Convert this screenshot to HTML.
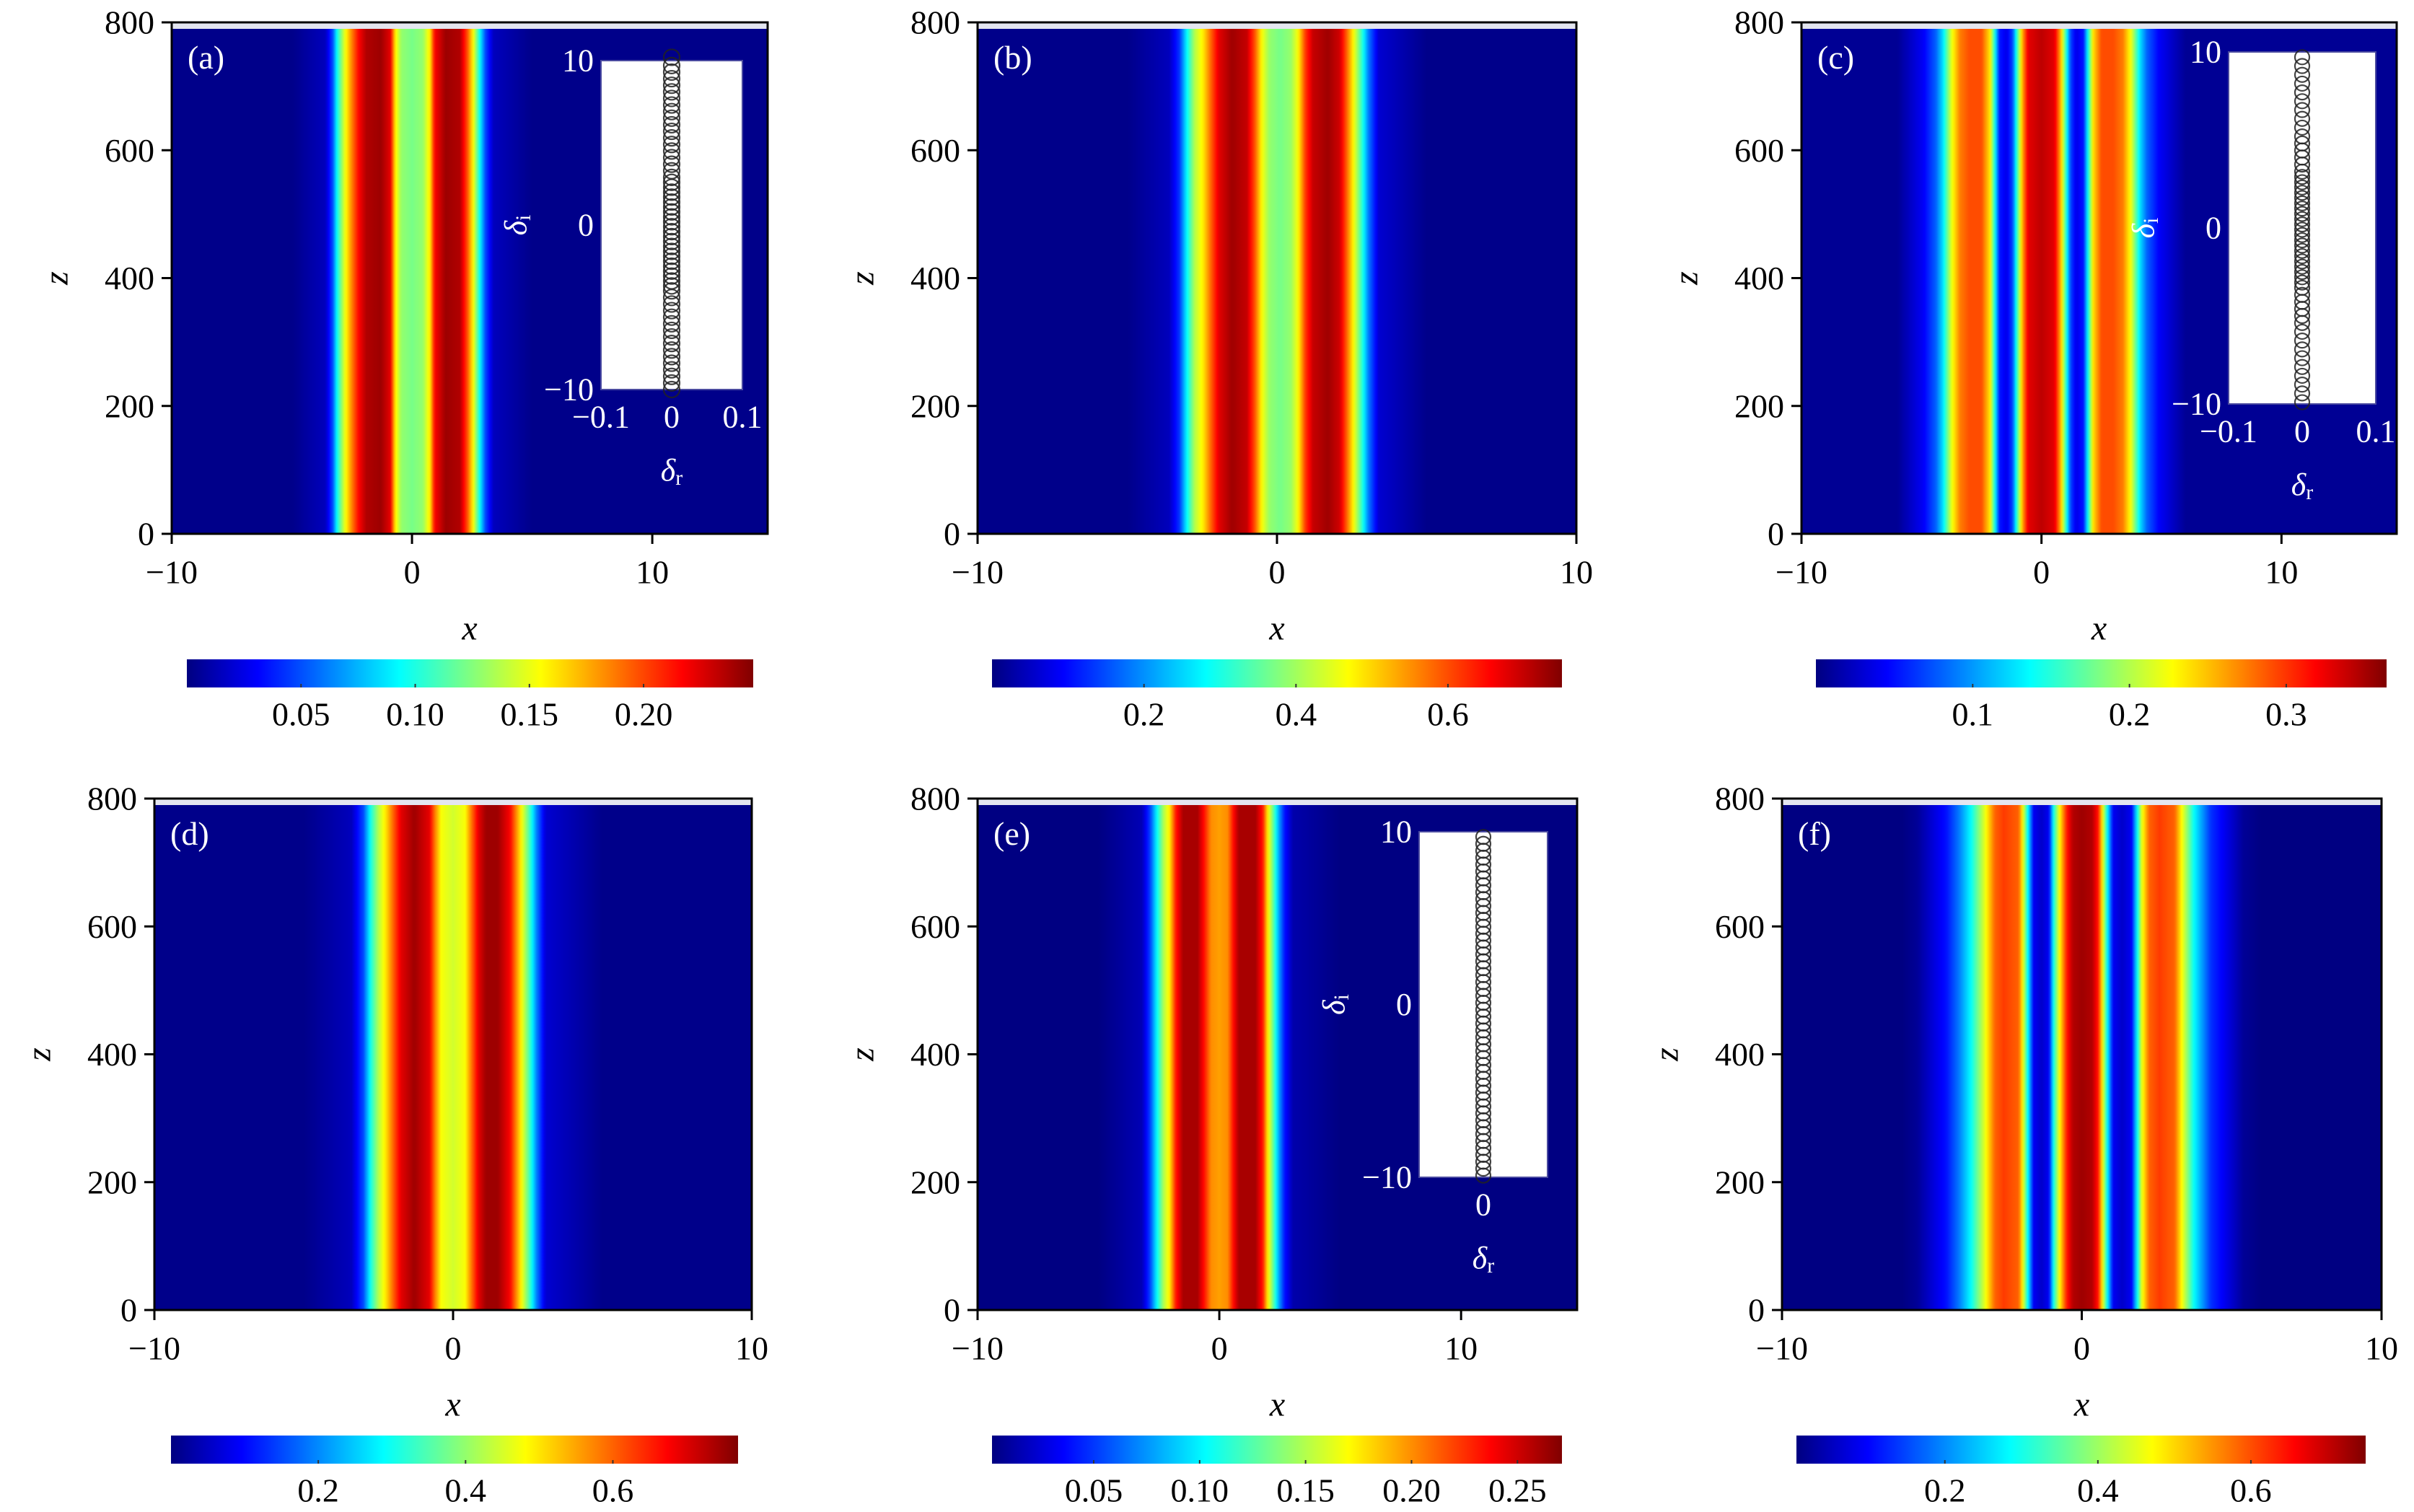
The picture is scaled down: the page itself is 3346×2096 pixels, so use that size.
<!DOCTYPE html>
<html>
<head>
<meta charset="utf-8">
<style>
html,body{margin:0;padding:0;background:#fff;}
svg{display:block;}
text{font-family:"Liberation Serif",serif;}
</style>
</head>
<body>
<svg id="fig" width="3346" height="2096" viewBox="0 0 3346 2096" xmlns="http://www.w3.org/2000/svg"></svg>
<script>
// ---- intensity profiles |u|^2 across x (z-invariant) ----
const xs_a = [-5,-3.6,-3.3,-3.1,-2.8,-2.5,-2.2,-1.9,-1.3,-0.9,-0.7,-0.45,0,0.45,0.75,0.95,1.4,2.0,2.3,2.55,2.8,3.05,3.4,5];
const vals_a = [0.0025,0.015,0.05,0.099,0.149,0.186,0.218,0.236,0.241,0.223,0.161,0.129,0.122,0.129,0.161,0.218,0.241,0.236,0.198,0.154,0.099,0.05,0.015,0.0025];
const xs_b = [-5,-3.6,-3.25,-3.0,-2.75,-2.45,-2.2,-1.95,-1.5,-1.0,-0.75,-0.5,-0.25,0.1,0.45,0.7,0.95,1.2,1.7,2.1,2.3,2.55,2.8,3.05,3.4,5];
const vals_b = [0.0075,0.045,0.135,0.285,0.4125,0.4875,0.585,0.675,0.7275,0.6975,0.6,0.465,0.39,0.3675,0.39,0.465,0.615,0.6975,0.7275,0.69,0.6,0.4725,0.3375,0.1875,0.06,0.0075];
const xs_c = [-6,-4.9,-4.4,-4.1,-3.75,-3.4,-3.0,-2.5,-2.15,-1.95,-1.75,-1.45,-1.2,-1.0,-0.8,-0.55,0,0.55,0.8,1.0,1.2,1.45,1.75,1.95,2.15,2.5,3.0,3.4,3.75,4.1,4.4,4.9,6];
const vals_c = [0.0073,0.0437,0.0801,0.1274,0.2184,0.273,0.2912,0.2912,0.2366,0.1456,0.0546,0.0364,0.0728,0.1638,0.2548,0.3276,0.3422,0.3276,0.2548,0.1638,0.0728,0.0364,0.0546,0.1456,0.2366,0.2912,0.2912,0.273,0.2184,0.1274,0.0801,0.0437,0.0073];
const xs_d = [-5,-3.4,-3.0,-2.75,-2.5,-2.25,-2.0,-1.75,-1.3,-0.8,-0.6,-0.4,0,0.4,0.6,0.85,1.1,1.5,1.9,2.1,2.3,2.55,2.8,3.1,5];
const vals_d = [0.0077,0.0462,0.154,0.308,0.4235,0.5005,0.6006,0.693,0.7469,0.693,0.5775,0.4774,0.4466,0.4774,0.5775,0.693,0.7469,0.7469,0.6776,0.5775,0.4774,0.3465,0.1925,0.0616,0.0077];
const xs_e = [-5,-3.2,-2.85,-2.55,-2.3,-2.05,-1.8,-1.5,-0.9,-0.6,-0.35,0,0.35,0.55,0.8,1.5,1.8,2.0,2.2,2.45,2.7,3.05,5];
const vals_e = [0.0027,0.0163,0.0542,0.1084,0.149,0.176,0.2304,0.2602,0.2602,0.2304,0.2005,0.1951,0.2005,0.2304,0.2602,0.2602,0.2304,0.176,0.1355,0.0813,0.0407,0.0136,0.0027];
const xs_f = [-6,-5.5,-4.5,-4.1,-3.7,-3.2,-2.9,-2.6,-2.1,-1.95,-1.8,-1.6,-1.35,-1.1,-0.95,-0.75,-0.5,-0.3,0,0.35,0.55,0.7,0.85,1.05,1.35,1.65,1.85,2.0,2.25,2.6,3.1,3.35,3.75,4.3,5.4,6];
const vals_f = [0.0075,0.0225,0.1125,0.1875,0.285,0.465,0.585,0.615,0.585,0.45,0.285,0.09,0.06,0.09,0.285,0.465,0.6375,0.7125,0.7275,0.7125,0.6375,0.465,0.285,0.09,0.06,0.09,0.285,0.45,0.585,0.615,0.585,0.465,0.285,0.135,0.0225,0.0075];

// ---- colorbar ranges and ticks ----
const cb_a = [0, 0.248];  const cbTicks_a = [0.05,0.10,0.15,0.20]; const cbLabels_a = ["0.05","0.10","0.15","0.20"];
const cb_b = [0, 0.75];   const cbTicks_b = [0.2,0.4,0.6]; const cbLabels_b = ["0.2","0.4","0.6"];
const cb_c = [0, 0.364];  const cbTicks_c = [0.1,0.2,0.3]; const cbLabels_c = ["0.1","0.2","0.3"];
const cb_d = [0, 0.77];   const cbTicks_d = [0.2,0.4,0.6]; const cbLabels_d = ["0.2","0.4","0.6"];
const cb_e = [0.002, 0.271]; const cbTicks_e = [0.05,0.10,0.15,0.20,0.25]; const cbLabels_e = ["0.05","0.10","0.15","0.20","0.25"];
const cb_f = [0.006, 0.75]; const cbTicks_f = [0.2,0.4,0.6]; const cbLabels_f = ["0.2","0.4","0.6"];

// ---- axis ticks ----
const zTicks = [0,200,400,600,800];
const xTicks = [-10,0,10];
const xTickLabels = ["\u221210","0","10"];

// ---- inset eigenvalue spectra (delta_r, delta_i) ----
const di_a = [-10,-9.6,-9.2,-8.8,-8.4,-8,-7.6,-7.2,-6.8,-6.4,-6,-5.6,-5.2,-4.8,-4.4,-4,-3.7,-3.4,-3.1,-2.8,-2.5,-2.2,-1.9,-1.6,-1.3,-1,-0.7,-0.4,-0.1,0.2,0.5,0.8,1.1,1.4,1.7,2,2.3,2.6,2.9,3.3,3.7,4.1,4.5,4.9,5.3,5.7,6.1,6.5,6.9,7.3,7.7,8.1,8.5,8.9,9.3,9.7,10.2];
const dr_a = [0,0,0,0,0,0,0,0,0,0,0,0,0,0,0,0,0,0,0,0,0,0,0,0,0,0,0,0,0,0,0,0,0,0,0,0,0,0,0,0,0,0,0,0,0,0,0,0,0,0,0,0,0,0,0,0,0];
const di_c = [-9.9,-9.4,-8.9,-8.4,-7.9,-7.4,-6.9,-6.4,-5.9,-5.4,-5,-4.6,-4.2,-3.8,-3.4,-3.1,-2.8,-2.5,-2.2,-1.9,-1.6,-1.3,-1,-0.7,-0.4,-0.1,0.2,0.5,0.8,1.1,1.4,1.7,2,2.3,2.6,2.9,3.2,3.6,4,4.4,4.8,5.2,5.7,6.2,6.7,7.2,7.7,8.2,8.7,9.2,9.7];
const dr_c = [0,0,0,0,0,0,0,0,0,0,0,0,0,0,0,0,0,0,0,0,0,0,0,0,0,0,0,0,0,0,0,0,0,0,0,0,0,0,0,0,0,0,0,0,0,0,0,0,0,0,0];
const di_e = [-9.9,-9.5,-9.1,-8.7,-8.3,-7.9,-7.5,-7.1,-6.7,-6.3,-5.9,-5.5,-5.1,-4.7,-4.3,-3.9,-3.5,-3.1,-2.7,-2.3,-1.9,-1.5,-1.1,-0.7,-0.3,0.1,0.5,0.9,1.3,1.7,2.1,2.5,2.9,3.3,3.7,4.1,4.5,4.9,5.3,5.7,6.1,6.5,6.9,7.3,7.7,8.1,8.5,8.9,9.3,9.7];
const dr_e = [0,0,0,0,0,0,0,0,0,0,0,0,0,0,0,0,0,0,0,0,0,0,0,0,0,0,0,0,0,0,0,0,0,0,0,0,0,0,0,0,0,0,0,0,0,0,0,0,0,0];

const NS = "http://www.w3.org/2000/svg";
const svg = document.getElementById('fig');
const defs = document.createElementNS(NS, 'defs');
svg.appendChild(defs);

function mk(tag, attrs, parent){
  const el = document.createElementNS(NS, tag);
  for (const k in attrs) el.setAttribute(k, attrs[k]);
  (parent || svg).appendChild(el);
  return el;
}
function clamp(v){return Math.max(0, Math.min(1, v));}
function jet(t){
  t = clamp(t);
  const r = clamp(1.5 - Math.abs(4*t - 3));
  const g = clamp(1.5 - Math.abs(4*t - 2));
  const b = clamp(1.5 - Math.abs(4*t - 1));
  return 'rgb(' + Math.round(r*255) + ',' + Math.round(g*255) + ',' + Math.round(b*255) + ')';
}
function interp(xsArr, vArr, x){
  if (x <= xsArr[0]) return vArr[0];
  if (x >= xsArr[xsArr.length-1]) return vArr[vArr.length-1];
  for (let i = 0; i < xsArr.length-1; i++){
    if (x >= xsArr[i] && x <= xsArr[i+1]){
      const f = (x - xsArr[i]) / (xsArr[i+1] - xsArr[i]);
      return vArr[i] + f*(vArr[i+1]-vArr[i]);
    }
  }
  return 0;
}

const panels = [
  {id:'a', L:238,  R:1064, xmax:14.8, top:31,   xs:xs_a, vals:xs_a && vals_a, cb:cb_a, cbT:cbTicks_a, cbL:cbLabels_a, cbX:[259,1044],
   inset:{x0:833,x1:1029,y0:84,y1:540, xr:[-0.1,0.1], xt:[-0.1,0,0.1], xtl:["\u22120.1","0","0.1"], di:di_a, dr:dr_a, r:11}},
  {id:'b', L:1355, R:2185, xmax:10, top:31, xs:xs_b, vals:vals_b, cb:cb_b, cbT:cbTicks_b, cbL:cbLabels_b, cbX:[1375,2165]},
  {id:'c', L:2497, R:3322, xmax:14.8, top:31, xs:xs_c, vals:vals_c, cb:cb_c, cbT:cbTicks_c, cbL:cbLabels_c, cbX:[2517,3308],
   inset:{x0:3089,x1:3293,y0:72,y1:560, xr:[-0.1,0.1], xt:[-0.1,0,0.1], xtl:["\u22120.1","0","0.1"], di:di_c, dr:dr_c, r:10}},
  {id:'d', L:214,  R:1042, xmax:10, top:1107, xs:xs_d, vals:vals_d, cb:cb_d, cbT:cbTicks_d, cbL:cbLabels_d, cbX:[237,1023]},
  {id:'e', L:1355, R:2186, xmax:14.8, top:1107, xs:xs_e, vals:vals_e, cb:cb_e, cbT:cbTicks_e, cbL:cbLabels_e, cbX:[1375,2165],
   inset:{x0:1967,x1:2145,y0:1153,y1:1632, xr:[-0.1,0.1], xt:[0], xtl:["0"], di:di_e, dr:dr_e, r:10}},
  {id:'f', L:2470, R:3301, xmax:10, top:1107, xs:xs_f, vals:vals_f, cb:cb_f, cbT:cbTicks_f, cbL:cbLabels_f, cbX:[2490,3279]}
];

const PH = 709; // plot height

panels.forEach(p => {
  const top = p.top, bot = top + PH;
  const xScale = x => p.L + (x + 10) / (p.xmax + 10) * (p.R - p.L);
  const zScale = z => bot - z / 800 * PH;
  const g = mk('g', {});
  
  

  // heatmap gradient built from profile arrays
  const grad = mk('linearGradient', {id:'grad-' + p.id, x1:0, y1:0, x2:1, y2:0}, defs);
  const N = 300;
  for (let i = 0; i <= N; i++){
    const xv = -10 + (p.xmax + 10) * i / N;
    const v = interp(p.xs, p.vals, xv);
    const t = (v - p.cb[0]) / (p.cb[1] - p.cb[0]);
    mk('stop', {offset: (i/N), 'stop-color': jet(t)}, grad);
  }
  const hm = mk('rect', {x:p.L, y:top, width:p.R-p.L, height:PH, fill:'url(#grad-' + p.id + ')'}, g);
  
  
  const strip = mk('rect', {x:p.L, y:top, width:p.R-p.L, height:9, fill:'#e4e6f0'}, g);
  
  

  // frame
  const fr = mk('rect', {x:p.L, y:top, width:p.R-p.L, height:PH, fill:'none', stroke:'#000', 'stroke-width':3}, g);
  
  

  // z ticks
  zTicks.forEach(z => {
    const y = zScale(z);
    mk('line', {x1:p.L-14, x2:p.L, y1:y, y2:y, stroke:'#000', 'stroke-width':3}, g);
    const t = mk('text', {x:p.L-24, y:y, 'font-size':46, 'text-anchor':'end', 'dominant-baseline':'central'}, g);
    t.textContent = z;
    
    
  });
  // x ticks
  xTicks.forEach((x, i) => {
    const X = xScale(x);
    mk('line', {x1:X, x2:X, y1:bot, y2:bot+14, stroke:'#000', 'stroke-width':3}, g);
    const t = mk('text', {x:X, y:bot+53, 'font-size':46, 'text-anchor':'middle', 'dominant-baseline':'central'}, g);
    t.textContent = xTickLabels[i];
    
    
  });
  // axis titles
  const xl = mk('text', {x:(p.L+p.R)/2, y:bot+131, 'font-size':48, 'font-style':'italic', 'text-anchor':'middle', 'dominant-baseline':'central'}, g);
  xl.textContent = 'x';
  
  
  const zx = p.L - 160, zy = (top + bot) / 2;
  const zl = mk('text', {x:zx, y:zy, 'font-size':48, 'font-style':'italic', 'text-anchor':'middle', 'dominant-baseline':'central', transform:'rotate(-90 ' + zx + ' ' + zy + ')'}, g);
  zl.textContent = 'z';
  
  
  // panel label
  const pl = mk('text', {x:p.L+22, y:top+64, 'font-size':46, fill:'#fff'}, g);
  pl.textContent = '(' + p.id + ')';
  
  

  // colorbar
  const cbTop = top + 883, cbH = 39;
  const cg = mk('linearGradient', {id:'cbg-' + p.id, x1:0, y1:0, x2:1, y2:0}, defs);
  for (let i = 0; i <= 40; i++) mk('stop', {offset:i/40, 'stop-color':jet(i/40)}, cg);
  const cbr = mk('rect', {x:p.cbX[0], y:cbTop, width:p.cbX[1]-p.cbX[0], height:cbH, fill:'url(#cbg-' + p.id + ')'}, g);
  
  
  const cScale = v => p.cbX[0] + (v - p.cb[0]) / (p.cb[1] - p.cb[0]) * (p.cbX[1] - p.cbX[0]);
  p.cbT.forEach((v, i) => {
    const X = cScale(v);
    mk('line', {x1:X, x2:X, y1:cbTop+cbH-5, y2:cbTop+cbH, stroke:'#333', 'stroke-width':2}, g);
    const t = mk('text', {x:X, y:cbTop+76, 'font-size':46, 'text-anchor':'middle', 'dominant-baseline':'central'}, g);
    t.textContent = p.cbL[i];
    
    
  });

  // inset
  if (p.inset){
    const s = p.inset;
    const ig = mk('g', {}, g);
    
    
    mk('rect', {x:s.x0, y:s.y0, width:s.x1-s.x0, height:s.y1-s.y0, fill:'#fff', stroke:'#4a4aa0', 'stroke-width':2}, ig);
    const ix = v => s.x0 + (v - s.xr[0]) / (s.xr[1] - s.xr[0]) * (s.x1 - s.x0);
    const iy = v => s.y1 - (v + 10) / 20 * (s.y1 - s.y0);
    s.di.forEach((d, i) => {
      const c = mk('circle', {cx:ix(s.dr[i]), cy:iy(d), r:s.r, fill:'none', stroke:'#222', 'stroke-width':2.2, 'stroke-opacity':0.85}, ig);
      
      
    });
    [[10,'10'],[0,'0'],[-10,'\u221210']].forEach(([v, lab]) => {
      const t = mk('text', {x:s.x0-10, y:iy(v), 'font-size':44, fill:'#fff', 'text-anchor':'end', 'dominant-baseline':'central'}, ig);
      t.textContent = lab;
      
      
    });
    s.xt.forEach((v, i) => {
      const t = mk('text', {x:ix(v), y:s.y1+38, 'font-size':44, fill:'#fff', 'text-anchor':'middle', 'dominant-baseline':'central'}, ig);
      t.textContent = s.xtl[i];
      
      
    });
    const drx = ix(0), dry = s.y1 + 112;
    const dr = mk('text', {x:drx, y:dry, 'font-size':44, fill:'#fff', 'text-anchor':'middle', 'dominant-baseline':'central', 'font-style':'italic'}, ig);
    dr.textContent = '\u03b4';
    const sub = mk('tspan', {'font-size':30, 'font-style':'normal', dy:10}, dr);
    sub.textContent = 'r';
    
    
    const dix = s.x0 - 118, diy = iy(0);
    const di = mk('text', {x:dix, y:diy, 'font-size':44, fill:'#fff', 'text-anchor':'middle', 'dominant-baseline':'central', 'font-style':'italic', transform:'rotate(-90 ' + dix + ' ' + diy + ')'}, ig);
    di.textContent = '\u03b4';
    const sub2 = mk('tspan', {'font-size':30, 'font-style':'normal', dy:10}, di);
    sub2.textContent = 'i';
    
    
  }
});
</script>
</body>
</html>
